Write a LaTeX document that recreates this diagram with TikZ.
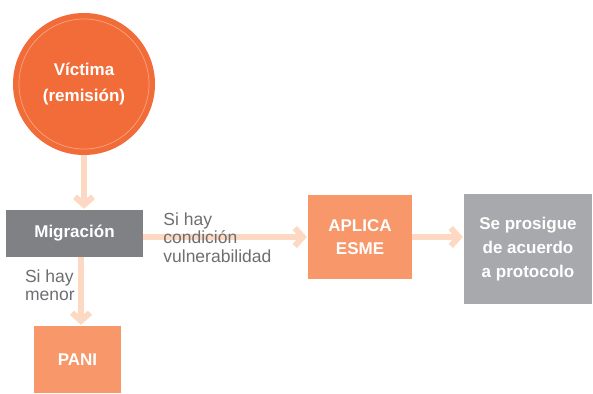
\documentclass[tikz,border=0pt]{standalone}
\usepackage{fontspec}
\setmainfont{Liberation Sans}
\usepackage[dvipsnames]{xcolor}
\usetikzlibrary{arrows.meta}

\definecolor{naranja}{HTML}{F26C3A}
\definecolor{anillo}{HTML}{F8A47E}
\definecolor{salmon}{HTML}{F7976A}
\definecolor{grisosc}{HTML}{808184}
\definecolor{grisclaro}{HTML}{A7A9AC}
\definecolor{flechac}{HTML}{FDD9C3}
\definecolor{textogris}{HTML}{6D6E71}

\begin{document}
\begin{tikzpicture}[x=1pt,y=1pt,>={Straight Barb[length=8pt,width=18pt]},shorten >=1pt,
  caja/.style={rectangle,fill,text=white,font=\bfseries\fontsize{17}{23}\selectfont,align=center,inner sep=0pt},
  etiqueta/.style={text=textogris,font=\fontsize{17.5}{18.3}\selectfont,align=left,inner sep=0pt},
  flecha/.style={->,draw=flechac,line width=6pt}]

            \useasboundingbox (0,0) rectangle (593,-393);

            \node[circle, fill=naranja, minimum size=142pt, text=white, align=center, font=\bfseries\fontsize{17}{26}\selectfont] (1) at (84,-84) {Víctima\\(remisión)};
            \node[circle, draw=anillo, line width=0.7pt, minimum size=130pt] (1b) at (1) {};
            \node[caja, fill=grisosc, minimum width=137pt, minimum height=47pt] (2) at (74.5,-233.5) {Migración};
            \node[caja, fill=salmon, minimum width=104pt, minimum height=84pt] (3) at (360,-237) {APLICA\\ESME};
            \node[caja, fill=grisclaro, minimum width=128pt, minimum height=110pt, font=\bfseries\fontsize{17}{24}\selectfont] (4) at (528,-249) {Se prosigue\\de acuerdo\\a protocolo};
            \node[caja, fill=salmon, minimum width=87pt, minimum height=67pt] (5) at (77.5,-359.5) {PANI};

            \draw[flecha] (1) -- (1 |- 2.north);
            \draw[flecha] (2.east |- 3) -- (3);
            \draw[flecha] (3) -- (3 -| 4.west);
            \draw[flecha] ([xshift=3.5pt]2.south -| 5) -- ([xshift=3.5pt]5.north);

            % texto encima de las flechas
            \node[etiqueta, anchor=north west, xshift=20pt, yshift=-3pt] (6) at (2.north east) {Si hay\\condición\\vulnerabilidad};
            \node[etiqueta, anchor=north west, xshift=19pt, yshift=-12.5pt] (7) at (2.south west) {Si hay\\menor};

            ;
        \end{tikzpicture}
\end{document}
